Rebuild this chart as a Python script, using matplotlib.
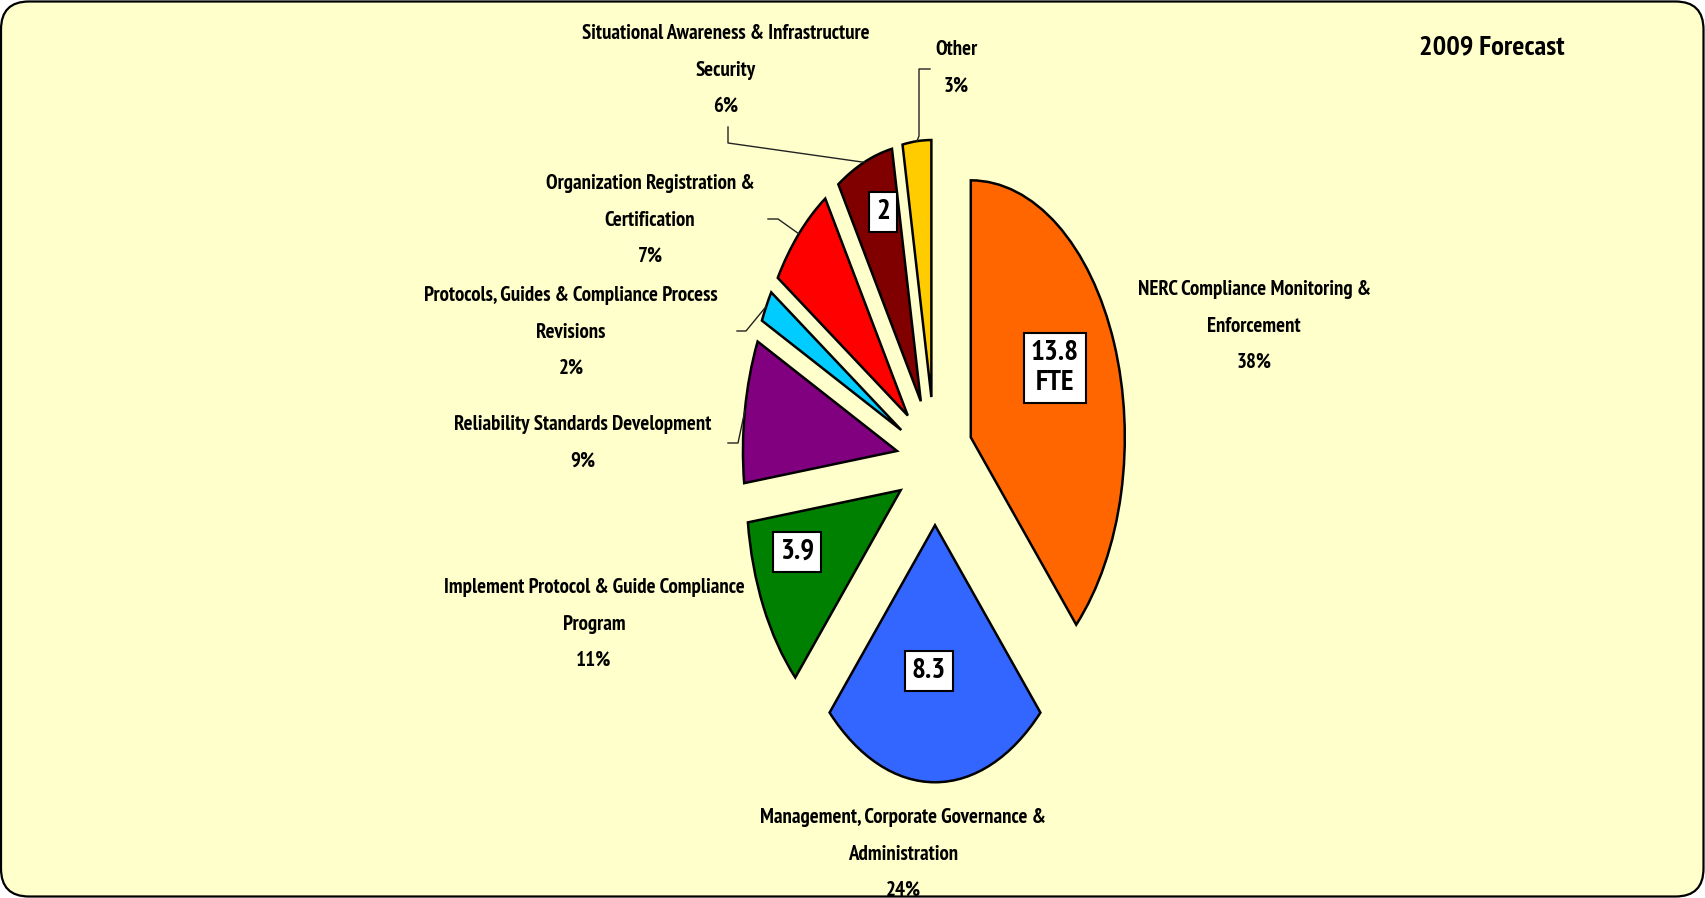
import numpy as np
import matplotlib
matplotlib.use("Agg")
import matplotlib.pyplot as plt
from matplotlib.patches import FancyBboxPatch

# data
categories = [
    "NERC Compliance Monitoring &\nEnforcement",
    "Management, Corporate Governance &\nAdministration",
    "Implement Protocol & Guide Compliance\nProgram",
    "Reliability Standards Development",
    "Protocols, Guides & Compliance Process\nRevisions",
    "Organization Registration &\nCertification",
    "Situational Awareness & Infrastructure\nSecurity",
    "Other",
]
shares = [38, 24, 11, 9, 2, 7, 6, 3]
fte_labels = ["13.8\nFTE", "8.3", "3.9", None, None, None, "2", None]
colors = ["#FF6600", "#3366FF", "#008000", "#800080",
          "#00CCFF", "#FF0000", "#800000", "#FFCC00"]
title = "2009 Forecast"

FAM = ["Liberation Sans Narrow", "Arial Narrow", "PT Sans Narrow",
       "Archivo Narrow", "Roboto Condensed", "IBM Plex Sans Condensed",
       "Open Sans Condensed", "Liberation Sans", "DejaVu Sans"]

# layout (pixel positions in the 1705x898 image, y from top)
W, H = 1705, 898
CX, CY = 935, 461          # pie centre
UX, UY = 154, 257          # pixels per unit radius (squashed pie)

def px(x, y):
    return (x - CX) / UX, (CY - y) / UY

label_pos = [(1254, 326), (903, 854), (594, 624), (583, 443),
             (571, 332), (650, 220), (726, 70), (956, 68)]
box_pos = [(1055, 368), (929, 671), (797, 552), None,
           None, None, (883, 212), None]
# label-side elbow of leader lines (None = no leader)
leaders = [None, None, None,
           [(728, 443), (738, 443)],
           [(737, 331), (746, 331)],
           [(768, 219), (778, 219)],
           [(728, 127), (728, 143)],
           [(930, 69), (919, 69), (919, 136)]]

fig = plt.figure(figsize=(W / 100, H / 100), dpi=100)
fig.patch.set_facecolor("white")

# rounded light-yellow frame
bg = fig.add_axes([0, 0, 1, 1])
bg.set_xlim(0, W)
bg.set_ylim(H, 0)
bg.axis("off")
bg.add_patch(FancyBboxPatch((1, 1.5), W - 2.5, H - 3,
                            boxstyle="round,pad=0,rounding_size=28",
                            fc="#FFFFCC", ec="black", lw=1.6))

ax = fig.add_axes([0, 0, 1, 1], zorder=2)
ax.patch.set_alpha(0)
wedges, _ = ax.pie(shares, colors=colors, startangle=90, counterclock=False,
                   explode=[0.25] * len(shares), radius=1,
                   wedgeprops=dict(edgecolor="black", linewidth=1.8))
ax.set_aspect("auto")
x0, y1 = px(0, 0)
x1, y0 = px(W, H)
ax.set_xlim(x0, x1)
ax.set_ylim(y0, y1)
ax.axis("off")

for i, (cat, pct) in enumerate(zip(categories, shares)):
    lx, ly = px(*label_pos[i])
    ax.text(lx, ly, f"{cat}\n{pct}%", ha="center", va="center",
            fontsize=15, fontweight="bold", family=FAM, linespacing=2.15,
            multialignment="center")
    if leaders[i] is not None:
        w = wedges[i]
        mid = np.deg2rad((w.theta1 + w.theta2) / 2)
        ex = w.center[0] + w.r * np.cos(mid)
        ey = w.center[1] + w.r * np.sin(mid)
        pts = [px(*p) for p in leaders[i]] + [(ex, ey)]
        xs, ys = zip(*pts)
        ax.plot(xs, ys, color="#222222", lw=1.0)
    if fte_labels[i] is not None:
        bx, by = px(*box_pos[i])
        ax.text(bx, by, fte_labels[i], ha="center", va="center",
                fontsize=21, fontweight="bold", family=FAM, linespacing=1.2,
                bbox=dict(boxstyle="square,pad=0.25", fc="white",
                          ec="black", lw=1.5), zorder=5)

tx, ty = px(1492, 47)
ax.text(tx, ty, title, ha="center", va="center", fontsize=20.5,
        fontweight="bold", family=FAM)

fig.savefig("out.png", dpi=100)
